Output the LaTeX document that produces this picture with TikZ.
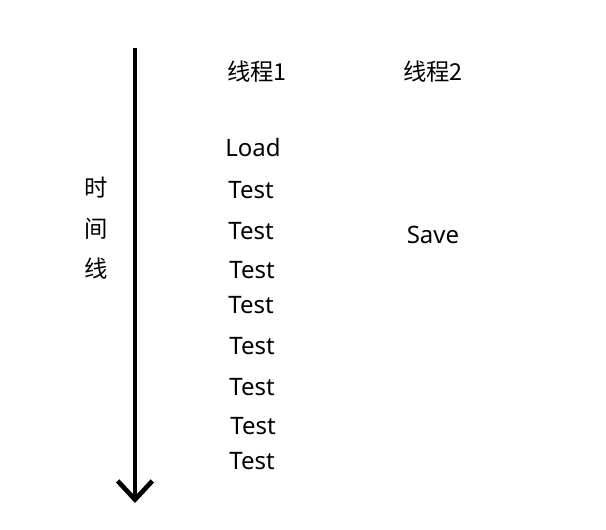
\documentclass[tikz,border=0pt]{standalone}
\usepackage{fontspec}
\setmainfont{Noto Sans}
\newfontfamily\cjk{Noto Sans CJK SC}
\usetikzlibrary{arrows.meta,positioning}

\begin{document}
\begin{tikzpicture}[x=0.75pt, y=-0.75pt,
    lbl/.style={font=\fontsize{18}{20}\selectfont, inner sep=0pt},
    head/.style={font=\cjk\fontsize{17.5}{20}\selectfont, inner sep=0pt},
    timeline/.style={line width=3.5pt, -{Straight Barb[length=14pt, width=26pt, line width=3.5pt]}}
  ]
    \useasboundingbox (0,0) rectangle (606,529);

    % time axis
    \coordinate (start) at (135, 48);
    \coordinate (end) at (135, 503);
    \draw[timeline] (start) -- (end);

    \node[head] (t1) at (96, 188) {时};
    \node[head] (t2) at (96, 229) {间};
    \node[head] (t3) at (96, 269) {线};

    \node[head] (thread1) at (257, 72) {线程1};
    \node[head] (thread2) at (433, 72) {线程2};

    % thread 1
    \node[lbl] (load) at (253, 147) {Load};
    \node[lbl] (test1) at (251, 190) {Test};
    \node[lbl] (test2) at (251, 231) {Test};
    \node[lbl] (test3) at (252, 270) {Test};
    \node[lbl] (test4) at (251, 305) {Test};
    \node[lbl] (test5) at (252, 346) {Test};
    \node[lbl] (test6) at (252, 387) {Test};
    \node[lbl] (test7) at (253, 426) {Test};
    \node[lbl] (test8) at (252, 461) {Test};

    % thread 2
    \node[lbl] (save) at (433, 235) {Save};
\end{tikzpicture}
\end{document}
